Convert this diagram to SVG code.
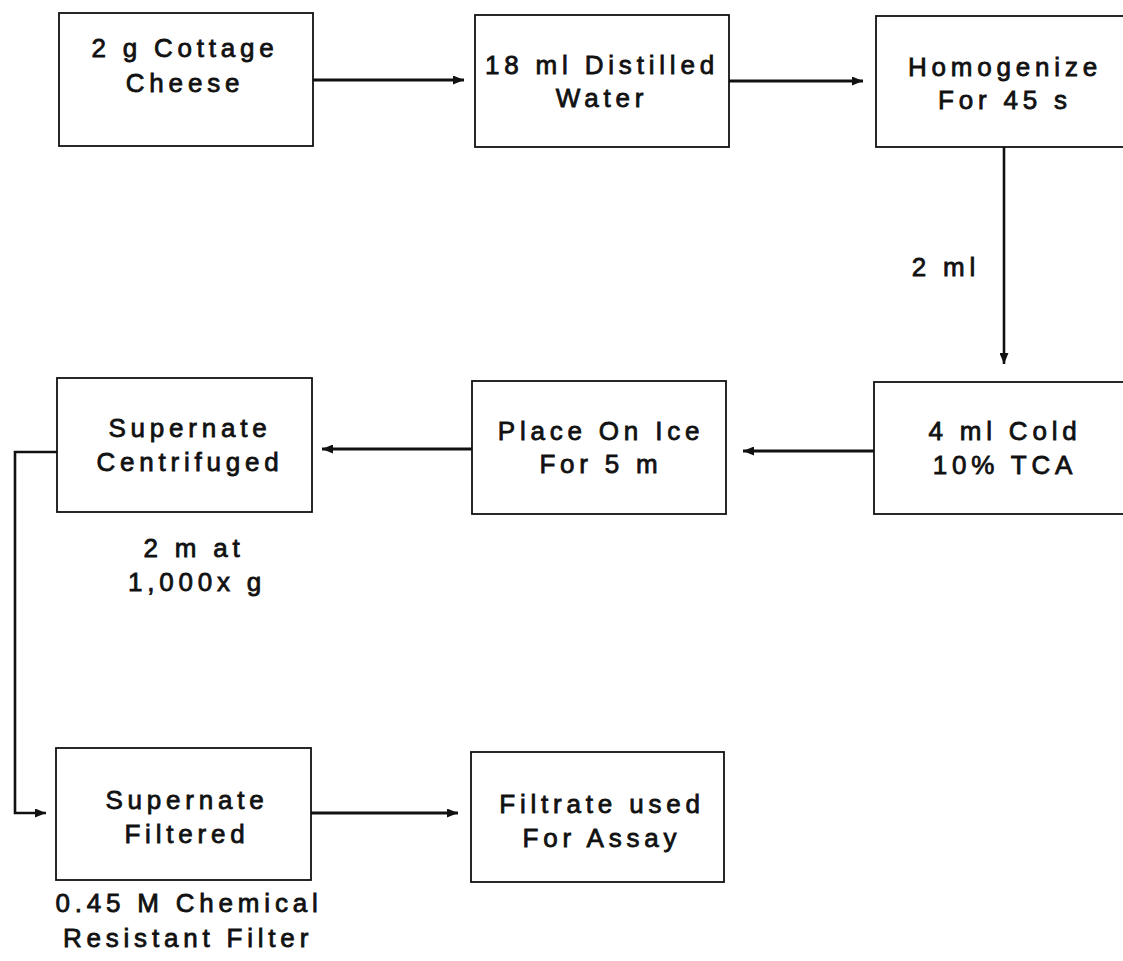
<svg xmlns="http://www.w3.org/2000/svg" width="1123" height="961" viewBox="0 0 1123 961">
<style>
.box{fill:#fff;stroke:#111;stroke-width:1.8}
.t{font-family:"Liberation Sans",Arial,sans-serif;font-weight:normal;font-size:26px;letter-spacing:4.8px;fill:#111;stroke:#111;stroke-width:0.8;text-anchor:middle}
.c{fill:none;stroke:#111;stroke-width:2.6}
.ch{fill:none;stroke:#111;stroke-width:3.2}
</style>
<defs>
<marker id="ah" viewBox="0 0 11 9" refX="11" refY="4.5" markerWidth="11" markerHeight="9" markerUnits="userSpaceOnUse" orient="auto">
<path d="M0,0 L11,4.5 L0,9 z" fill="#111"/>
</marker>
</defs>
<rect width="1123" height="961" fill="#fff"/>
<g id="connectors">
<path class="ch" d="M313,80 H464" marker-end="url(#ah)"/>
<path class="ch" d="M729,81 H863" marker-end="url(#ah)"/>
<path class="c" d="M1004,147 V364" marker-end="url(#ah)"/>
<path class="ch" d="M874,451 H743" marker-end="url(#ah)"/>
<path class="ch" d="M472,449 H322" marker-end="url(#ah)"/>
<path class="c" d="M57,452 H15 V813 H46" marker-end="url(#ah)"/>
<path class="ch" d="M311,813 H458" marker-end="url(#ah)"/>
<text class="t" x="946" y="276">2 ml</text>
</g>
<g id="n1"><rect class="box" x="59" y="13" width="254" height="133"/>
<text class="t" x="185" y="57">2 g Cottage</text><text class="t" x="185" y="92">Cheese</text></g>
<g id="n2"><rect class="box" x="475" y="15" width="254" height="132"/>
<text class="t" x="602" y="74">18 ml Distilled</text><text class="t" x="602" y="107">Water</text></g>
<g id="n3"><rect class="box" x="876" y="16" width="262" height="131"/>
<text class="t" x="1005" y="76">Homogenize</text><text class="t" x="1005" y="109">For 45 s</text></g>
<g id="n4"><rect class="box" x="874" y="382" width="264" height="132"/>
<text class="t" x="1005" y="440">4 ml Cold</text><text class="t" x="1005" y="474">10% TCA</text></g>
<g id="n5"><rect class="box" x="472" y="381" width="254" height="133"/>
<text class="t" x="601" y="440">Place On Ice</text><text class="t" x="601" y="473">For 5 m</text></g>
<g id="n6"><rect class="box" x="57" y="378" width="255" height="134"/>
<text class="t" x="190" y="437">Supernate</text><text class="t" x="190" y="471">Centrifuged</text>
<text class="t" x="194" y="557">2 m at</text><text class="t" x="197" y="591">1,000x g</text></g>
<g id="n7"><rect class="box" x="56" y="748" width="255" height="132"/>
<text class="t" x="187" y="809">Supernate</text><text class="t" x="187" y="843">Filtered</text>
<text class="t" x="189" y="912">0.45 M Chemical</text><text class="t" x="188" y="947">Resistant Filter</text></g>
<g id="n8"><rect class="box" x="471" y="752" width="253" height="130"/>
<text class="t" x="602" y="813">Filtrate used</text><text class="t" x="602" y="847">For Assay</text></g>
</svg>
